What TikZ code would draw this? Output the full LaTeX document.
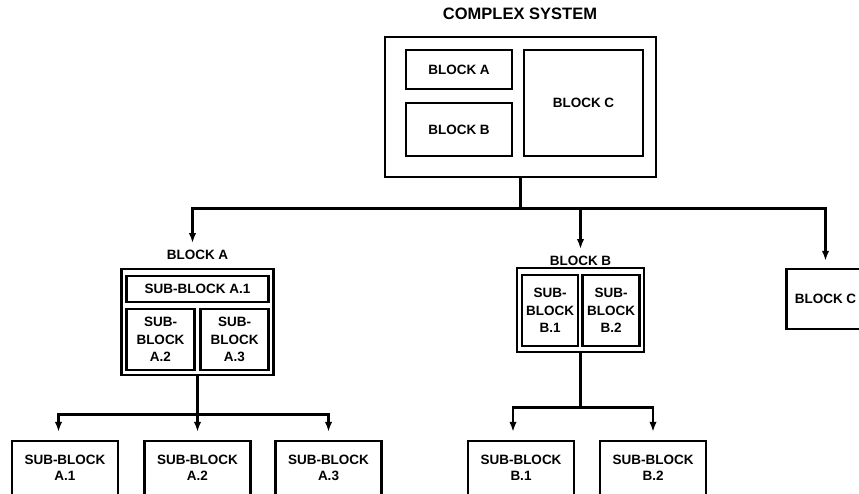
\documentclass[tikz,border=0pt]{standalone}
\usepackage{fontspec}
\setmainfont{Liberation Sans}
\usetikzlibrary{arrows.meta}

\begin{document}
\begin{tikzpicture}[x=1pt,y=-1pt,
  line width=2.4pt,
  box/.style={draw=black, rectangle, inner sep=0pt, align=center,
    font=\bfseries\fontsize{13.5}{17.5}\selectfont},
  lowbox/.style={box, font=\bfseries\fontsize{13.5}{16}\selectfont},
  lbl/.style={inner sep=0pt, font=\bfseries\fontsize{13.5}{16}\selectfont},
  ttl/.style={inner sep=0pt, font=\bfseries\fontsize{16.5}{19}\selectfont},
  arr/.style={-{Latex[length=10pt,width=7.5pt]}},
  bus/.style={line cap=butt}]
\useasboundingbox (0,0) rectangle (859,493);
\clip (0,0) rectangle (859,493);

% top level system
\node[ttl] (title) at (520,14) {COMPLEX SYSTEM};
\node[box, minimum width=271pt, minimum height=140pt] (sys) at (520.5,107) {};
\node[box, minimum width=106pt, minimum height=39pt] (sysA) at (459,69.5) {BLOCK A};
\node[box, minimum width=106pt, minimum height=53pt] (sysB) at (459,129.5) {BLOCK B};
\node[box, minimum width=119pt, minimum height=106pt] (sysC) at (583.5,103) {BLOCK C};

% block A decomposition
\node[lbl] (lblA) at (197.5,255) {BLOCK A};
\node[box, minimum width=152pt, minimum height=106pt] (grpA) at (197.5,322) {};
\node[box, minimum width=142pt, minimum height=26pt] (gA1) at (197.5,289) {SUB-BLOCK A.1};
\node[box, minimum width=68pt, minimum height=61pt] (gA2) at (160.5,339.5) {SUB-\\BLOCK\\A.2};
\node[box, minimum width=68pt, minimum height=61pt] (gA3) at (234.5,339.5) {SUB-\\BLOCK\\A.3};

% block B decomposition
\node[lbl] (lblB) at (580.5,261) {BLOCK B};
\node[box, minimum width=127pt, minimum height=84pt] (grpB) at (580.5,310) {};
\node[box, minimum width=56pt, minimum height=71pt] (gB1) at (550,310.5) {SUB-\\BLOCK\\B.1};
\node[box, minimum width=57pt, minimum height=71pt] (gB2) at (611,310.5) {SUB-\\BLOCK\\B.2};

% block C
\node[box, minimum width=78pt, minimum height=60pt] (blkC) at (825.5,299) {BLOCK C};

% leaf sub-blocks
\node[lowbox, minimum width=106pt, minimum height=54pt] (sA1) at (65,468) {SUB-BLOCK\\A.1};
\node[lowbox, minimum width=106pt, minimum height=54pt] (sA2) at (197.5,468) {SUB-BLOCK\\A.2};
\node[lowbox, minimum width=106pt, minimum height=54pt] (sA3) at (328.5,468) {SUB-BLOCK\\A.3};
\node[lowbox, minimum width=106pt, minimum height=54pt] (sB1) at (521,468) {SUB-BLOCK\\B.1};
\node[lowbox, minimum width=106pt, minimum height=54pt] (sB2) at (653,468) {SUB-BLOCK\\B.2};

% distribution buses
\coordinate (j0) at (sys.south |- 0,208.5);
\coordinate (j1) at (grpA.south |- 0,414.5);
\coordinate (j2) at (grpB.south |- 0,407.5);

\draw[bus] (sys.south) -- (j0);
\draw[arr] (j0) -| ([xshift=-5pt,yshift=6pt]lblA.north);
\draw[arr] (j0) -| ([yshift=6pt]lblB.north);
\draw[arr] (j0) -| ([yshift=7pt]blkC.north);

\draw[bus] (grpA.south) -- (j1);
\draw[arr] (j1) -| ([xshift=-6.5pt,yshift=8pt]sA1.north);
\draw[arr] (j1) -| ([yshift=8pt]sA2.north);
\draw[arr] (j1) -| ([yshift=8pt]sA3.north);

\draw[bus] (grpB.south) -- (j2);
\draw[arr] (j2) -| ([xshift=-8pt,yshift=8pt]sB1.north);
\draw[arr] (j2) -| ([yshift=8pt]sB2.north);
\end{tikzpicture}
\end{document}
